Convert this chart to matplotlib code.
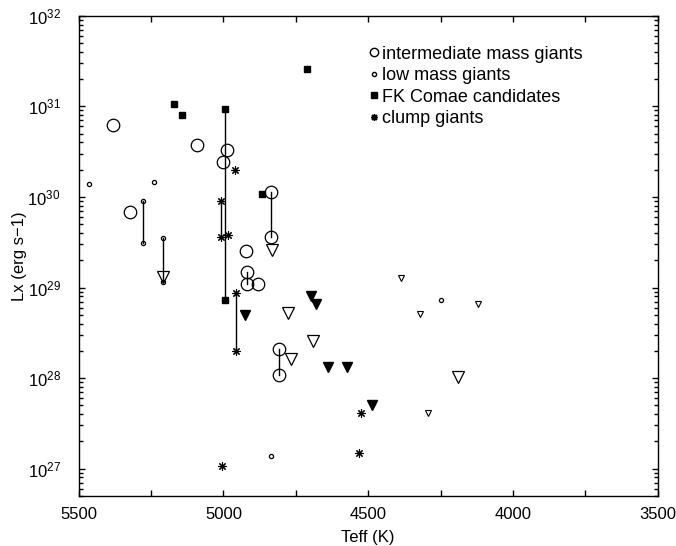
import matplotlib
matplotlib.use("Agg")
import matplotlib.pyplot as plt
from matplotlib.lines import Line2D
from matplotlib.ticker import MultipleLocator, LogLocator

plt.rcParams['font.family'] = ['Liberation Sans', 'DejaVu Sans']
plt.rcParams['mathtext.fontset'] = 'custom'
plt.rcParams['mathtext.rm'] = 'Liberation Sans'
plt.rcParams['mathtext.it'] = 'Liberation Sans'

# intermediate mass giants (big open circles)
im_teff = [5380, 5323, 5092, 4989, 5000, 4836, 4836, 4923, 4920, 4920, 4882, 4809, 4809]
im_lx = [6.3e30, 6.9e29, 3.7e30, 3.3e30, 2.4e30, 1.12e30, 3.6e29, 2.5e29,
         1.5e29, 1.1e29, 1.1e29, 2.1e28, 1.07e28]

# low mass giants (small open circles)
lm_teff = [5464, 5239, 5277, 5277, 5208, 5208, 4250, 4836]
lm_lx = [1.38e30, 1.45e30, 9.1e29, 3.1e29, 3.5e29, 1.15e29, 7.2e28, 1.38e27]

# FK Comae candidates (filled squares)
fk_teff = [5170, 5142, 4996, 4996, 4712, 4868]
fk_lx = [1.05e31, 8.1e30, 9.3e30, 7.2e28, 2.6e31, 1.07e30]

# clump giants (asterisks)
cl_teff = [4960, 5010, 5010, 4985, 4957, 4957, 5004, 4525, 4531]
cl_lx = [2.0e30, 9.1e29, 3.6e29, 3.8e29, 8.7e28, 2.0e28, 1.07e27, 4.1e27, 1.48e27]

# upper limits
im_ul_teff = [5210, 4831, 4776, 4767, 4692, 4189]
im_ul_lx = [1.32e29, 2.6e29, 5.2e28, 1.62e28, 2.6e28, 1.02e28]
lm_ul_teff = [4387, 4321, 4120, 4294]
lm_ul_lx = [1.26e29, 5.1e28, 6.5e28, 4.1e27]
fill_ul_teff = [4926, 4699, 4680, 4640, 4574, 4488]
fill_ul_lx = [5.0e28, 8.1e28, 6.6e28, 1.32e28, 1.32e28, 5.0e27]

# same star, two measurements -> vertical link
link_teff = [5277, 5208, 4996, 4836, 5010, 4920, 4957, 4809]
link_lo = [3.1e29, 1.15e29, 7.2e28, 3.6e29, 3.6e29, 1.1e29, 2.0e28, 1.07e28]
link_hi = [9.1e29, 3.5e29, 9.3e30, 1.12e30, 9.1e29, 1.5e29, 8.7e28, 2.1e28]

fig = plt.figure(figsize=(6.76, 5.46), dpi=100)
ax = fig.add_axes([0.1164, 0.0916, 0.8566, 0.8796])

for t, lo, hi in zip(link_teff, link_lo, link_hi):
    ax.plot([t, t], [lo, hi], color='black', lw=1, zorder=1)

star = (8, 2, 0)
ax.plot(im_teff, im_lx, 'o', ms=9, mfc='none', mec='black', mew=0.9, ls='none')
ax.plot(lm_teff, lm_lx, 'o', ms=3, mfc='none', mec='black', mew=0.9, ls='none')
ax.plot(fk_teff, fk_lx, 's', ms=5, color='black', ls='none')
ax.plot(cl_teff, cl_lx, marker=star, ms=6, color='black', mew=0.8, ls='none')
ax.plot(im_ul_teff, im_ul_lx, 'v', ms=9, mfc='none', mec='black', mew=0.9, ls='none')
ax.plot(lm_ul_teff, lm_ul_lx, 'v', ms=4, mfc='none', mec='black', mew=0.8, ls='none')
ax.plot(fill_ul_teff, fill_ul_lx, 'v', ms=6.5, color='black', ls='none')

ax.set_xlim(5500, 3500)
ax.set_ylim(5e26, 1e32)
ax.set_yscale('log')
ax.xaxis.set_major_locator(MultipleLocator(500))
ax.xaxis.set_minor_locator(MultipleLocator(250))
ax.yaxis.set_major_locator(LogLocator(base=10, numticks=10))
ax.yaxis.set_minor_locator(LogLocator(base=10, subs=range(2, 10), numticks=20))
ax.tick_params(which='both', direction='in', top=True, right=True, labelsize=12)
ax.tick_params(which='major', length=4, width=1)
ax.tick_params(which='minor', length=3, width=1)
ax.tick_params(axis='x', which='minor', length=4)
ax.tick_params(axis='x', which='major', pad=8)
ax.tick_params(axis='y', which='major', pad=13)
for s in ax.spines.values():
    s.set_linewidth(1)

ax.set_xlabel("Teff (K)", fontsize=12, labelpad=6)
ax.set_ylabel("Lx (erg s\u22121)", fontsize=12, labelpad=0)

handles = [
    Line2D([], [], marker='o', ms=6, mfc='none', mec='black', ls='none'),
    Line2D([], [], marker='o', ms=3, mfc='none', mec='black', ls='none'),
    Line2D([], [], marker='s', ms=4, color='black', ls='none'),
    Line2D([], [], marker=star, ms=5, color='black', ls='none'),
]
labels = ["intermediate mass giants", "low mass giants",
          "FK Comae candidates", "clump giants"]
ax.legend(handles, labels, loc='upper left', bbox_to_anchor=(0.4997, 0.938),
          frameon=False, fontsize=13, handlelength=0.7, handletextpad=0.1,
          labelspacing=0.25, borderpad=0, borderaxespad=0)

fig.savefig("out.png", dpi=100)
